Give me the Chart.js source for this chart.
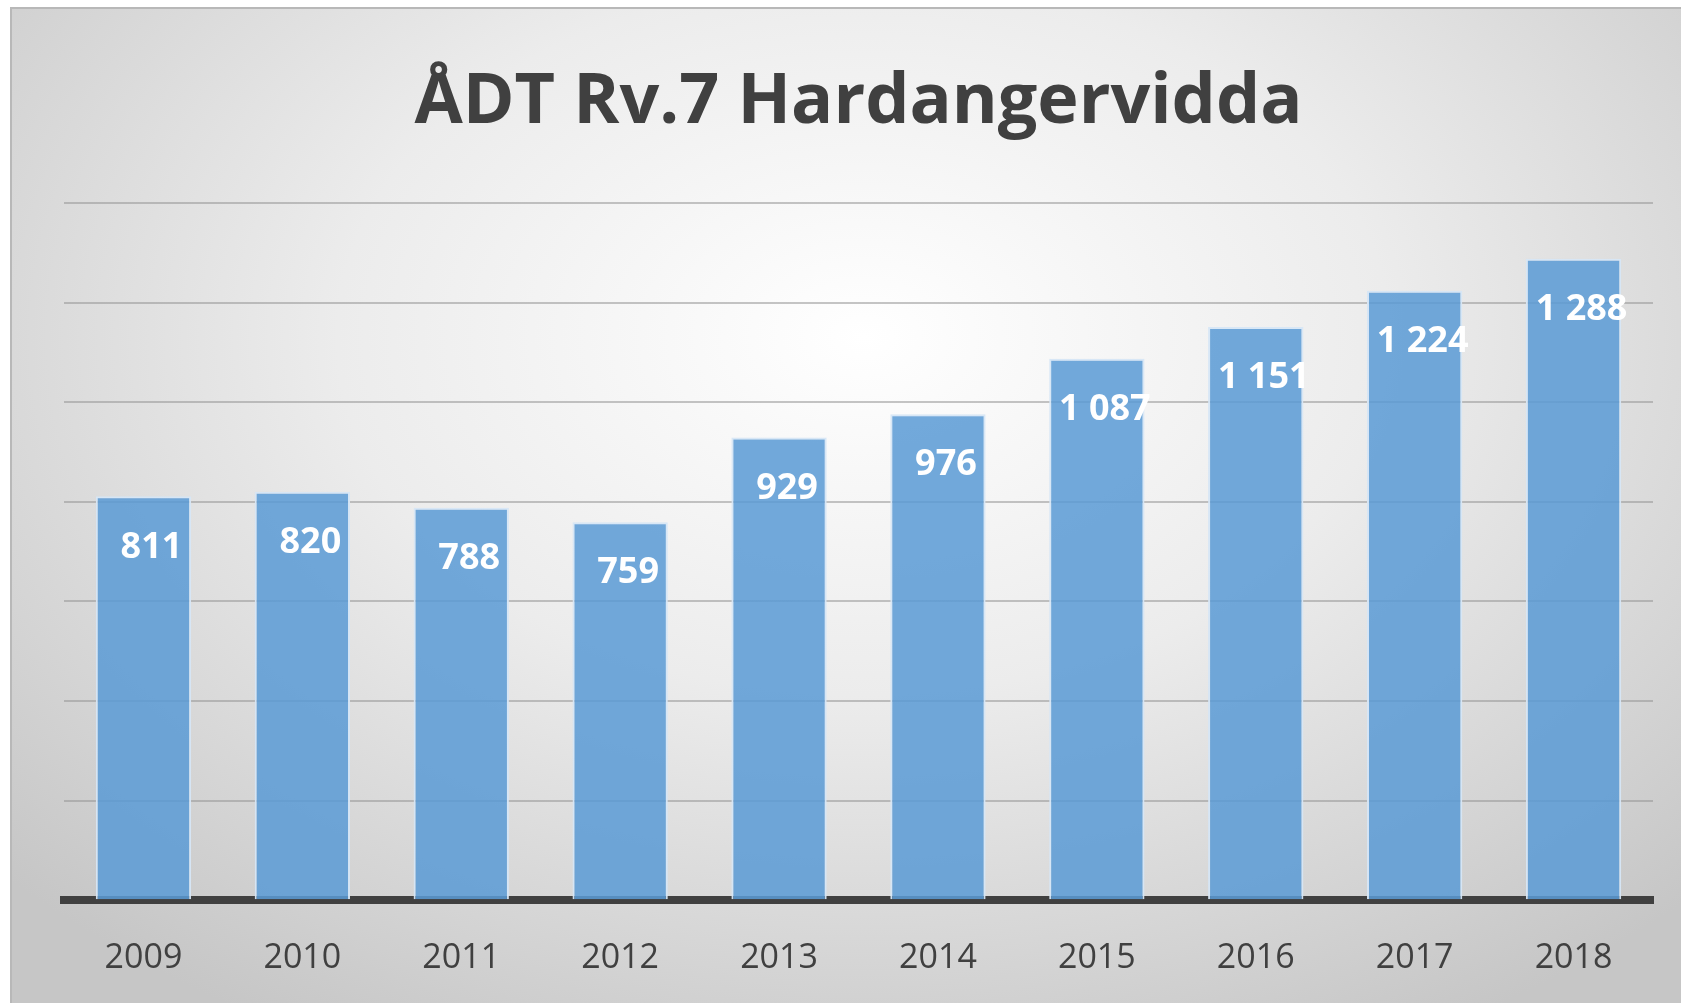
<!DOCTYPE html>
<html>
<head>
<meta charset="utf-8">
<title>ÅDT Rv.7 Hardangervidda</title>
<script src="https://cdn.jsdelivr.net/npm/chart.js@4.4.1/dist/chart.umd.min.js"></script>
<style>
  html, body {
    margin: 0;
    padding: 0;
    background: #ffffff;
    overflow: hidden;
  }
  #panel {
    position: absolute;
    left: 10px;
    top: 7px;
    width: 1671px;
    height: 996px;
    overflow: hidden;
    border-left: 2px solid #b8b8b8;
    border-top: 2px solid #b8b8b8;
    box-sizing: border-box;
    background: radial-gradient(ellipse 70% 80% at 51% 33%, #ffffff 0%, #ececec 45%, #d4d4d4 80%, #c6c6c6 100%);
  }
  #chartBox {
    position: absolute;
    left: 0;
    top: 0;
    width: 1669px;
    height: 1026px;
  }
</style>
</head>
<body>
<div id="panel">
  <div id="chartBox"><canvas id="adtChart"></canvas></div>
</div>
<script>
const years = ["2009", "2010", "2011", "2012", "2013", "2014", "2015", "2016", "2017", "2018"];
const adt = [811, 820, 788, 759, 929, 976, 1087, 1151, 1224, 1288];
const yMax = 1400;
const yStep = 200;

function formatNo(v) {
  return String(v).replace(/\B(?=(\d{3})+(?!\d))/g, " ");
}

// white value labels inside the top of each bar
const barLabels = {
  id: "barLabels",
  afterDatasetsDraw(chart) {
    const ctx = chart.ctx;
    const meta = chart.getDatasetMeta(0);
    ctx.save();
    ctx.fillStyle = "#ffffff";
    ctx.font = "bold 36px 'Open Sans'";
    ctx.textAlign = "center";
    ctx.textBaseline = "middle";
    meta.data.forEach((bar, i) => {
      ctx.fillText(formatNo(adt[i]), bar.x + 8, bar.y + 51);
    });
    ctx.restore();
  },
};

const ctx = document.getElementById("adtChart").getContext("2d");
new Chart(ctx, {
  type: "bar",
  data: {
    labels: years,
    datasets: [
      {
        label: "ÅDT",
        data: adt,
        backgroundColor: "rgba(91, 155, 213, 0.86)",
        borderColor: "rgba(214, 230, 246, 0.95)",
        borderWidth: 2,
        borderSkipped: "bottom",
        barPercentage: 0.6,
        categoryPercentage: 1.0,
      },
    ],
  },
  options: {
    responsive: true,
    maintainAspectRatio: false,
    animation: false,
    layout: {
      padding: { left: 52, right: 28, top: 0, bottom: 26 },
    },
    scales: {
      x: {
        grid: { display: false },
        border: { display: true, color: "#404040", width: 8 },
        ticks: {
          color: "#404040",
          font: { family: "'Open Sans'", size: 34 },
          padding: 30,
        },
      },
      y: {
        min: 0,
        max: yMax,
        ticks: { display: false, stepSize: yStep },
        border: { display: false },
        grid: {
          drawTicks: false,
          lineWidth: 2,
          color: (c) => (c.tick && c.tick.value === 0 ? "rgba(0,0,0,0)" : "rgba(150, 150, 150, 0.55)"),
        },
      },
    },
    plugins: {
      legend: { display: false },
      tooltip: { enabled: false },
      title: {
        display: true,
        text: "ÅDT Rv.7 Hardangervidda",
        color: "#404040",
        font: { family: "'Open Sans'", size: 70, weight: "bold" },
        padding: { top: 52, bottom: 58 },
      },
    },
  },
  plugins: [barLabels],
});
</script>
</body>
</html>
